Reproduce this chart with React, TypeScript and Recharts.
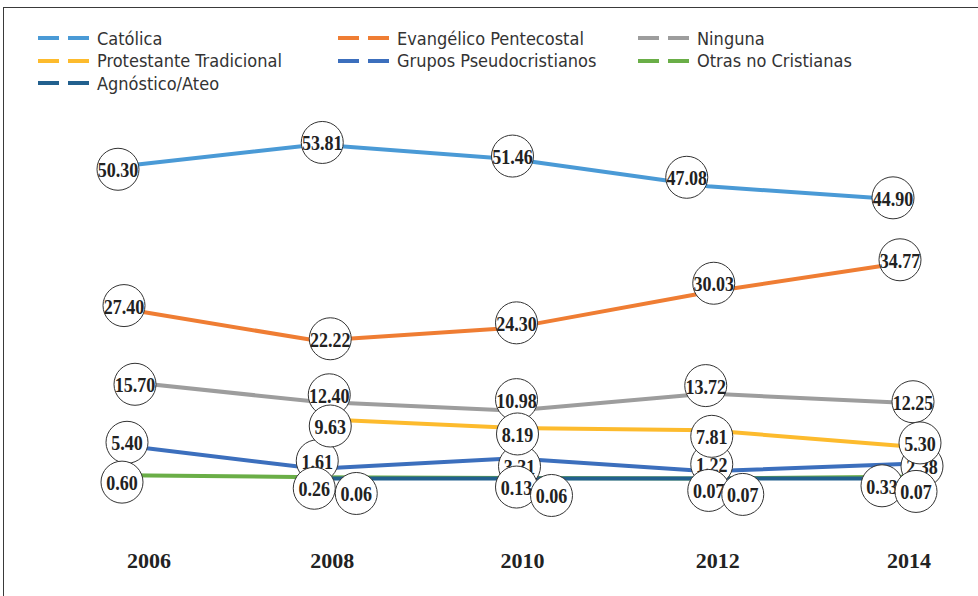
import { LineChart, Line, XAxis, YAxis, Legend, LabelList } from 'recharts';

// Religious affiliation (%) by survey year
const years = ['2006', '2008', '2010', '2012', '2014'];
const catolica = [50.3, 53.81, 51.46, 47.08, 44.9];
const evangelico = [27.4, 22.22, 24.3, 30.03, 34.77];
const ninguna = [15.7, 12.4, 10.98, 13.72, 12.25];
const protestante = [null, 9.63, 8.19, 7.81, 5.3];
const pseudo = [5.4, 1.61, 3.31, 1.22, 2.38];
const otras = [0.6, 0.26, 0.13, 0.07, 0.33];
const agnostico = [null, 0.06, 0.06, 0.07, 0.07];

const series = [
  { key: 'catolica', name: 'Católica', color: '#4A9AD6', values: catolica },
  { key: 'evangelico', name: 'Evangélico Pentecostal', color: '#EF7D33', values: evangelico },
  { key: 'ninguna', name: 'Ninguna', color: '#9D9D9D', values: ninguna },
  { key: 'protestante', name: 'Protestante Tradicional', color: '#FDBB2D', values: protestante },
  { key: 'pseudo', name: 'Grupos Pseudocristianos', color: '#3C6FBD', values: pseudo },
  { key: 'otras', name: 'Otras no Cristianas', color: '#6AAE47', values: otras },
  { key: 'agnostico', name: 'Agnóstico/Ateo', color: '#22608E', values: agnostico },
];

// hand placed label bubbles (dx, dy from the point) so the crowded ones don't stack
const labelNudge: Record<string, number[][]> = {
  catolica: [[-4, 3], [5, -2], [0, -3], [-21, -9], [-10, -2]],
  evangelico: [[2, -3], [13, -2], [4, -5], [6, -9], [-3, -3]],
  ninguna: [[13, 3], [12, -7], [4, -11], [-2, -8], [10, -1]],
  protestante: [[0, 0], [13, 7], [5, 6], [4, 6], [17, -3]],
  pseudo: [[5, -3], [0, -8], [7, 8], [4, -7], [19, 2]],
  otras: [[0, 7], [-3, 11], [4, 9], [1, 12], [-21, 9]],
  agnostico: [[0, 0], [39, 15], [39, 17], [35, 16], [13, 13]],
};
// year labels sit a little right of the points in the original
const yearNudge = [27, 15, 10, 10, 6];

// bubbles drawn last-on-top in this order
const labelOrder = ['catolica', 'evangelico', 'ninguna', 'pseudo', 'protestante', 'otras', 'agnostico'];

const data = years.map((year, i) => {
  const row: Record<string, string | number | null> = { year };
  series.forEach((s) => {
    row[s.key] = s.values[i];
  });
  return row;
});

function makeBubble(key: string) {
  return function Bubble(props: any) {
    const { x, y, value, index } = props;
    if (value == null || x == null || y == null) return null;
    const [dx, dy] = labelNudge[key][index] || [0, 0];
    const cx = x + dx;
    const cy = y + dy;
    const text = Number(value).toFixed(2);
    // condensed bold serif look: squeeze the natural width
    const natural = (text.length - 1) * 10 + 5;
    return (
      <g>
        <circle cx={cx} cy={cy} r={21} fill="#fff" stroke="#333" strokeWidth={1} />
        <text
          x={cx}
          y={cy}
          dy={1}
          textAnchor="middle"
          dominantBaseline="central"
          fontFamily="'Liberation Serif', serif"
          fontWeight="bold"
          fontSize={20}
          fill="#222"
          textLength={natural * 0.9}
          lengthAdjust="spacingAndGlyphs"
        >
          {text}
        </text>
      </g>
    );
  };
}

function YearTick(props: any) {
  const { x, y, payload, index } = props;
  return (
    <text
      x={x + (yearNudge[index] || 0)}
      y={y}
      dy={11}
      textAnchor="middle"
      dominantBaseline="central"
      fontFamily="'Liberation Serif', serif"
      fontWeight="bold"
      fontSize={22}
      fill="#222"
    >
      {payload.value}
    </text>
  );
}

function LegendBlock() {
  return (
    <div
      style={{
        display: 'flex',
        flexWrap: 'wrap',
        width: 900,
        fontFamily: "'Liberation Sans Narrow', 'DejaVu Sans Condensed', sans-serif",
        fontSize: 18,
        color: '#333',
      }}
    >
      {series.map((s) => (
        <div key={s.key} style={{ width: 300, height: 22.5, display: 'flex', alignItems: 'center' }}>
          <svg width={59} height={6} style={{ flexShrink: 0 }}>
            <line x1={0} x2={21} y1={3} y2={3} stroke={s.color} strokeWidth={4} />
            <line x1={30} x2={51} y1={3} y2={3} stroke={s.color} strokeWidth={4} />
          </svg>
          <span style={{ whiteSpace: 'nowrap' }}>{s.name}</span>
        </div>
      ))}
    </div>
  );
}

export default function App() {
  return (
    <div
      style={{
        position: 'fixed',
        left: 0,
        top: 0,
        width: 978,
        height: 596,
        overflow: 'hidden',
        background: '#fff',
      }}
    >
      <div
        style={{
          position: 'absolute',
          left: 3,
          top: 7,
          width: 1000,
          height: 700,
          border: '1px solid #3a3a3a',
        }}
      />
      <div style={{ position: 'absolute', left: 0, top: 0 }}>
        <LineChart
          width={978}
          height={596}
          data={data}
          margin={{ top: 106, right: 75, left: 122, bottom: 25 }}
        >
          <XAxis
            dataKey="year"
            axisLine={false}
            tickLine={false}
            height={30}
            interval={0}
            tick={<YearTick />}
          />
          <YAxis hide domain={[-10, 60]} />
          <Legend
            layout="horizontal"
            verticalAlign="middle"
            wrapperStyle={{ top: 27, left: 38, width: 920 }}
            content={() => <LegendBlock />}
          />

          {series.map((s) => (
            <Line
              key={s.key}
              dataKey={s.key}
              name={s.name}
              stroke={s.color}
              strokeWidth={4}
              dot={false}
              activeDot={false}
              type="linear"
              isAnimationActive={false}
            />
          ))}

          {/* label bubbles on top of every line */}
          {labelOrder.map((key) => (
            <Line
              key={'lbl-' + key}
              dataKey={key}
              stroke="none"
              dot={false}
              activeDot={false}
              legendType="none"
              isAnimationActive={false}
            >
              <LabelList dataKey={key} content={makeBubble(key)} />
            </Line>
          ))}
        </LineChart>
      </div>
    </div>
  );
}
